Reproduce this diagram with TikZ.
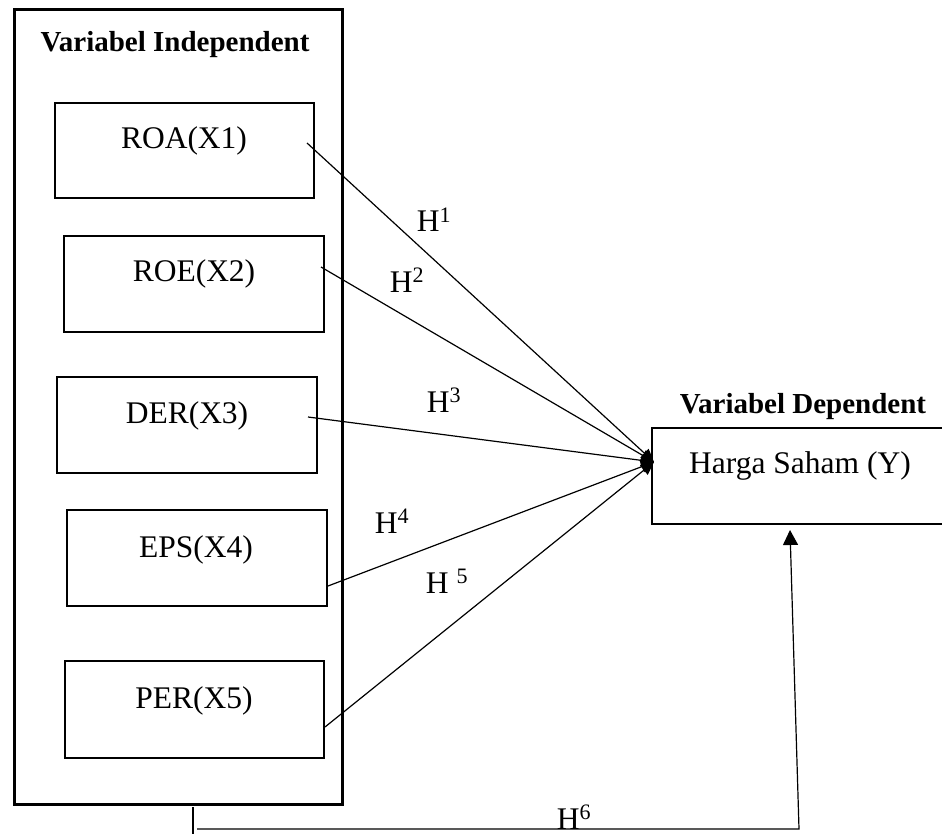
\documentclass[tikz,border=0pt]{standalone}
\usepackage{fontspec}
\setmainfont{Liberation Serif}
\usetikzlibrary{arrows.meta,calc}
\begin{document}
\begin{tikzpicture}[x=1pt,y=-1pt,
  box/.style={draw, line width=2.8pt, inner sep=0pt, rectangle},
  lbl/.style={inner sep=0pt, anchor=base, font=\fontsize{31.5}{36}\selectfont},
  title/.style={inner sep=0pt, anchor=base, font=\fontsize{29}{34}\selectfont\bfseries},
  conn/.style={line width=1.2pt, -{Triangle[length=13pt,width=12pt]}},
  plain/.style={line width=1.2pt}
]
\useasboundingbox (0,0) rectangle (942,834);
% outer box
\node[box, line width=3pt, minimum width=328pt, minimum height=794pt] (outer) at (178,407) {};
\node[title] (tind) at (175,52) {Variabel Independent};
% inner boxes
\node[box, minimum width=259pt, minimum height=95pt] (roa) at (184.5,150.5) {};
\node[box, minimum width=260pt, minimum height=96pt] (roe) at (194,284) {};
\node[box, minimum width=260pt, minimum height=96pt] (der) at (187,425) {};
\node[box, minimum width=260pt, minimum height=96pt] (eps) at (197,558) {};
\node[box, minimum width=259pt, minimum height=97pt] (per) at (194.5,709.5) {};
\node[lbl] (troa) at (184,149) {ROA(X1)};
\node[lbl] (troe) at (194,282) {ROE(X2)};
\node[lbl] (tder) at (187,423) {DER(X3)};
\node[lbl] (teps) at (196,557) {EPS(X4)};
\node[lbl] (tper) at (194,708) {PER(X5)};
% dependent
\node[box, minimum width=293pt, minimum height=96pt] (harga) at (798.5,476) {};
\node[title] (tdep) at (803,413) {Variabel Dependent};
\node[lbl] (tharga) at (800,473) {Harga Saham (Y)};
% connector points
\coordinate (s1) at (307,143);
\coordinate (s2) at (321,267);
\coordinate (s3) at (308,417);
\coordinate (s4) at (328,586);
\coordinate (s5) at (325,727);
\coordinate (hub) at (654,462);
\draw[conn] (s1) -- (hub);
\draw[conn] (s2) -- (hub);
\draw[conn] (s3) -- (hub);
\draw[conn] (s4) -- (hub);
\draw[conn] (s5) -- (hub);
% hypothesis labels
\node[lbl] (h1) at (434,232) {H\textsuperscript{1}};
\node[lbl] (h2) at (407,292) {H\textsuperscript{2}};
\node[lbl] (h3) at (444,412) {H\textsuperscript{3}};
\node[lbl] (h4) at (392,533) {H\textsuperscript{4}};
\node[lbl] (h5) at (447,593) {H \textsuperscript{5}};
% H6 path
\coordinate (v1) at (193,807);
\coordinate (v2) at (193,840);
\coordinate (b1) at (197,829);
\coordinate (b2) at (799,829);
\coordinate (tip) at (790,530);
\draw[plain] (v1) -- (v2);
\draw[plain, -{Triangle[length=15pt,width=15pt]}] (b1) -- (b2) -- (tip);
\node[lbl] (h6) at (574,829) {H\textsuperscript{6}};
\end{tikzpicture}
\end{document}
